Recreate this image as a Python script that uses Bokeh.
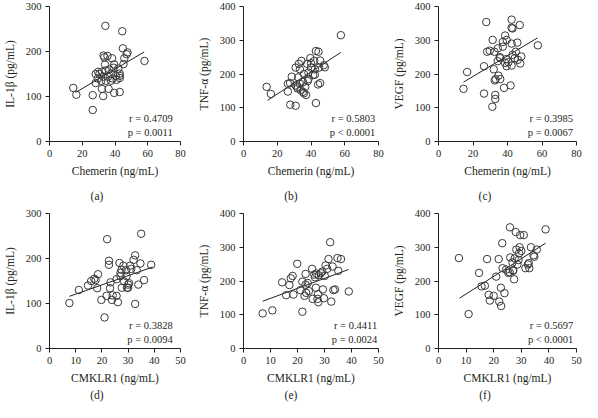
from bokeh.plotting import figure
from bokeh.layouts import column, row
from bokeh.models import Range1d, FixedTicker, Label, Div
from bokeh.embed import file_html
from bokeh.resources import INLINE

# ---------------- data ----------------
chemerin_a = [14.5, 16.4, 26.4, 26.4, 28.2, 28.2, 29.7, 32.0, 31.6, 32.0, 32.8, 33.0, 33.5, 35.4, 34.1,
              44.4, 44.8, 47.6, 47.1, 45.7, 58.0, 38.2, 33.9, 39.5, 45.2, 39.2, 34.3, 37.6, 42.9, 42.9,
              42.9, 40.5, 32.9, 35.8, 38.6, 34.4, 37.6, 36.1, 39.5, 42.9, 42.0, 30.5, 36.5, 41.0, 29.5]
il1b_a = [119, 104, 103, 70, 130, 150, 155, 155, 135, 117, 101, 191, 187, 190, 257,
          245, 207, 198, 194, 185, 179, 185, 171, 171, 172, 164, 158, 151, 151, 146,
          141, 146, 144, 144, 140, 135, 135, 117, 108, 110, 162, 150, 160, 137, 140]

chemerin_b = [13.7, 16.2, 26.3, 27.6, 26.3, 27.7, 30.9, 28.6, 30.9, 32.8, 34.3, 33.4, 32.4, 33.4, 30.9,
              32.0, 33.9, 35.3, 35.8, 35.8, 37.1, 36.6, 37.7, 38.5, 38.5, 38.1, 39.6, 40.0, 41.9, 42.3,
              42.3, 42.9, 44.4, 45.4, 44.8, 47.6, 48.2, 44.2, 45.4, 42.9, 57.7, 41.3, 35.2, 32.0, 40.0]
tnfa_b = [162, 141, 171, 173, 148, 109, 106, 192, 219, 230, 239, 214, 190, 171, 166,
          157, 153, 176, 200, 143, 138, 162, 230, 204, 185, 179, 247, 219, 239, 214,
          198, 268, 266, 240, 219, 226, 220, 169, 173, 114, 315, 197, 147, 162, 232]

chemerin_c = [14.5, 16.6, 26.4, 26.4, 27.7, 28.2, 29.7, 31.4, 31.2, 32.0, 32.4, 32.6, 33.1, 32.9, 32.9,
              34.4, 34.8, 34.3, 35.8, 35.5, 35.8, 37.3, 37.3, 38.0, 38.6, 39.5, 38.6, 39.2, 39.5, 40.5,
              41.8, 42.4, 42.4, 42.4, 42.9, 42.4, 42.9, 44.2, 44.8, 45.7, 47.1, 47.4, 48.0, 46.0, 57.6]
vegf_c = [156, 206, 142, 223, 354, 266, 269, 301, 103, 214, 266, 181, 185, 138, 126,
          276, 195, 238, 185, 250, 247, 295, 281, 159, 314, 301, 233, 244, 223, 235,
          166, 225, 361, 337, 335, 290, 257, 247, 266, 293, 345, 231, 252, 242, 285]

cmklr1_d = [7.6, 11.2, 14.7, 15.9, 17.1, 17.6, 18.5, 18.2, 19.8, 21.0, 21.8, 22.0, 22.7, 22.7, 23.1,
            23.3, 24.1, 23.8, 25.6, 25.6, 26.1, 26.7, 27.1, 27.1, 27.5, 27.6, 28.2, 28.5, 29.2, 29.4,
            29.6, 30.0, 30.4, 30.8, 31.2, 32.1, 32.7, 32.7, 33.3, 33.9, 34.7, 35.0, 36.1, 38.8, 30.0]
il1b_d = [101, 130, 140, 150, 155, 152, 165, 134, 108, 69, 117, 243, 195, 186, 134,
          147, 118, 108, 117, 154, 103, 190, 168, 161, 175, 135, 184, 149, 174, 161,
          135, 142, 145, 184, 177, 197, 207, 99, 174, 142, 189, 255, 152, 186, 135]

cmklr1_e = [7.1, 10.7, 14.3, 15.8, 17.0, 17.5, 18.2, 18.5, 19.9, 21.1, 21.8, 21.8, 22.6, 23.0, 23.0,
            23.2, 23.8, 24.2, 25.4, 25.6, 26.2, 26.5, 26.8, 27.4, 27.6, 27.7, 27.9, 28.6, 29.2, 29.4,
            29.8, 30.1, 30.4, 31.0, 31.5, 32.1, 32.5, 33.0, 33.3, 33.9, 34.8, 35.1, 36.1, 39.0, 27.0]
tnfa_e = [104, 113, 196, 158, 188, 208, 215, 160, 251, 173, 109, 198, 156, 221, 189,
          165, 194, 170, 236, 147, 219, 211, 180, 147, 161, 137, 217, 223, 228, 175,
          149, 215, 246, 236, 265, 315, 139, 243, 173, 175, 268, 230, 265, 169, 222]

cmklr1_f = [7.4, 10.9, 14.7, 15.6, 16.8, 17.6, 18.2, 18.6, 20.0, 20.9, 21.8, 22.0, 22.7, 22.6, 23.1,
            23.2, 23.9, 24.5, 25.3, 25.9, 25.8, 26.8, 27.1, 27.4, 27.6, 28.0, 28.2, 28.6, 29.2, 29.4,
            29.6, 30.0, 30.9, 31.5, 32.4, 32.7, 32.9, 33.5, 34.4, 34.7, 35.6, 38.8, 27.0, 29.0, 26.0]
vegf_f = [268, 102, 224, 184, 186, 265, 159, 142, 156, 213, 265, 139, 126, 180, 312,
          238, 164, 234, 224, 359, 226, 255, 232, 205, 267, 345, 293, 249, 282, 300,
          336, 289, 336, 238, 249, 253, 238, 300, 276, 272, 293, 353, 230, 262, 270]

# regression line end points
fit_x_a, fit_y_a = [16.0, 57.8], [109, 199]
fit_x_b, fit_y_b = [14.3, 57.7], [122, 264]
fit_x_c, fit_y_c = [14.5, 57.4], [176, 307]
fit_x_d, fit_y_d = [7.6, 39.4], [116, 181]
fit_x_e, fit_y_e = [7.1, 38.9], [140, 234]
fit_x_f, fit_y_f = [7.6, 38.8], [149, 312]

chemerin_ticks = [0, 20, 40, 60, 80]
cmklr1_ticks = [0, 10, 20, 30, 40, 50]
ticks_300 = [0, 100, 200, 300]
ticks_400 = [0, 100, 200, 300, 400]

stats_a = ["r = 0.4709", "p = 0.0011"]
stats_b = ["r = 0.5803", "p < 0.0001"]
stats_c = ["r = 0.3985", "p = 0.0067"]
stats_d = ["r = 0.3828", "p = 0.0094"]
stats_e = ["r = 0.4411", "p = 0.0024"]
stats_f = ["r = 0.5697", "p < 0.0001"]

captions_top = ["(a)", "(b)", "(c)"]
captions_bottom = ["(d)", "(e)", "(f)"]

FONT = "Liberation Serif"
INK = "#231f20"


def panel(x, y, fx, fy, xticks, yticks, xlabel, ylabel, stats,
          width, height, left, right, top, bottom, stat_xfrac):
    xmax, ymax = xticks[-1], yticks[-1]
    p = figure(width=width, height=height,
               x_range=Range1d(0, xmax), y_range=Range1d(0, ymax),
               output_backend="svg", toolbar_location=None,
               min_border_left=left, min_border_right=right,
               min_border_top=top, min_border_bottom=bottom)
    p.grid.visible = False
    p.outline_line_color = None
    p.background_fill_color = "white"
    p.border_fill_color = "white"
    p.xaxis.ticker = FixedTicker(ticks=xticks)
    p.yaxis.ticker = FixedTicker(ticks=yticks)
    for ax in (p.xaxis[0], p.yaxis[0]):
        ax.axis_line_color = INK
        ax.axis_line_width = 1
        ax.major_tick_line_color = INK
        ax.major_tick_in = 0
        ax.major_tick_out = 4
        ax.minor_tick_line_color = None
        ax.major_label_text_font = FONT
        ax.major_label_text_font_size = "10.5px"
        ax.major_label_text_color = INK
        ax.major_label_standoff = 4
        ax.axis_label_text_font = FONT
        ax.axis_label_text_font_size = "11.5px"
        ax.axis_label_text_font_style = "normal"
        ax.axis_label_text_color = INK
    p.xaxis.axis_label = xlabel
    p.yaxis.axis_label = ylabel
    p.xaxis.axis_label_standoff = 5
    p.yaxis.axis_label_standoff = 7

    p.line(fx, fy, line_color=INK, line_width=1)
    p.scatter(x, y, marker="circle", size=7.5, fill_color=None,
              line_color="#3a3a3a", line_width=1)

    for txt, frac in zip(stats, (0.17, 0.07)):
        p.add_layout(Label(x=xmax * stat_xfrac, y=ymax * frac, text=txt,
                           text_align="right", text_baseline="middle",
                           text_font=FONT, text_font_size="10.5px",
                           text_color=INK))
    return p


def caption_row(texts, height, pad_top):
    divs = []
    for t in texts:
        divs.append(Div(text=t, width=194, height=height, margin=0,
                        styles={"text-align": "center",
                                "font-family": FONT,
                                "font-size": "11.5px",
                                "line-height": "13px",
                                "color": INK,
                                "padding-top": f"{pad_top}px",
                                "box-sizing": "border-box"}))
    return row(*divs, spacing=0)


pa = panel(chemerin_a, il1b_a, fit_x_a, fit_y_a, chemerin_ticks, ticks_300,
           "Chemerin (ng/mL)", "IL-1β (pg/mL)", stats_a,
           194, 187, 42, 14, 6, 46, 0.94)
pb = panel(chemerin_b, tnfa_b, fit_x_b, fit_y_b, chemerin_ticks, ticks_400,
           "Chemerin (ng/mL)", "TNF-α (pg/mL)", stats_b,
           194, 187, 44, 10, 6, 46, 0.975)
pc = panel(chemerin_c, vegf_c, fit_x_c, fit_y_c, chemerin_ticks, ticks_400,
           "Chemerin (ng/mL)", "VEGF (pg/mL)", stats_c,
           194, 187, 50, 6, 6, 46, 0.975)
pd = panel(cmklr1_d, il1b_d, fit_x_d, fit_y_d, cmklr1_ticks, ticks_300,
           "CMKLR1 (ng/mL)", "IL-1β (pg/mL)", stats_d,
           194, 180, 42, 14, 6, 39, 0.94)
pe = panel(cmklr1_e, tnfa_e, fit_x_e, fit_y_e, cmklr1_ticks, ticks_400,
           "CMKLR1 (ng/mL)", "TNF-α (pg/mL)", stats_e,
           194, 180, 44, 10, 6, 39, 0.99)
pf = panel(cmklr1_f, vegf_f, fit_x_f, fit_y_f, cmklr1_ticks, ticks_400,
           "CMKLR1 (ng/mL)", "VEGF (pg/mL)", stats_f,
           194, 180, 50, 6, 6, 39, 0.976)

page = column(row(pa, pb, pc, spacing=0),
              caption_row(captions_top, 20, 3),
              row(pd, pe, pf, spacing=0),
              caption_row(captions_bottom, 15, 2),
              spacing=0)

open("out.html", "w").write(file_html(page, INLINE))
